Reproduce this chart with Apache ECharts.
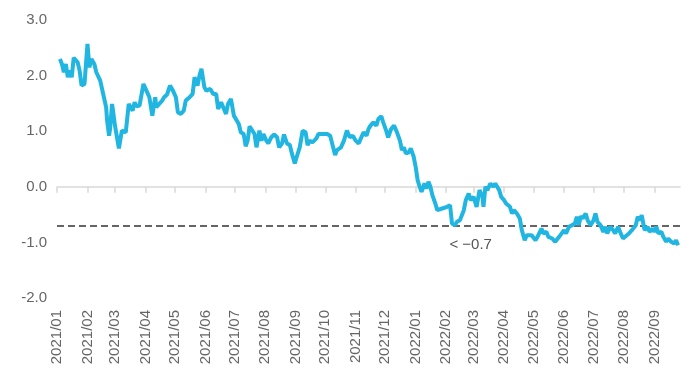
<!DOCTYPE html>
<html>
<head>
<meta charset="utf-8">
<script src="https://cdn.jsdelivr.net/npm/echarts@6/dist/echarts.min.js"></script>
<style>
html,body{margin:0;padding:0;background:#fff;}
#main{width:700px;height:378px;}
</style>
</head>
<body>
<div id="main"></div>
<script>
const dates = [
'2021-01-04','2021-01-05','2021-01-06','2021-01-08','2021-01-10','2021-01-12','2021-01-14','2021-01-16','2021-01-18','2021-01-22','2021-01-24','2021-01-26','2021-01-29','2021-01-30',
'2021-02-01','2021-02-03','2021-02-05','2021-02-08','2021-02-10','2021-02-14','2021-02-17','2021-02-20','2021-02-21','2021-02-23','2021-02-24','2021-02-26','2021-02-27',
'2021-03-01','2021-03-03','2021-03-05','2021-03-08','2021-03-10','2021-03-12','2021-03-15','2021-03-17','2021-03-19','2021-03-21','2021-03-23','2021-03-26','2021-03-30',
'2021-04-02','2021-04-05','2021-04-08','2021-04-11','2021-04-12','2021-04-15','2021-04-18','2021-04-20','2021-04-23','2021-04-26','2021-04-29',
'2021-05-02','2021-05-04','2021-05-07','2021-05-10','2021-05-12','2021-05-16','2021-05-19','2021-05-21','2021-05-24','2021-05-26','2021-05-28','2021-05-31',
'2021-06-02','2021-06-06','2021-06-09','2021-06-12','2021-06-14','2021-06-17','2021-06-19','2021-06-22','2021-06-24','2021-06-27','2021-06-30',
'2021-07-02','2021-07-05','2021-07-07','2021-07-10','2021-07-12','2021-07-14','2021-07-16',
'2021-07-18','2021-07-21','2021-07-23','2021-07-26','2021-07-28','2021-07-30',
'2021-08-02','2021-08-04','2021-08-07','2021-08-10','2021-08-13','2021-08-15','2021-08-18','2021-08-20','2021-08-23','2021-08-26','2021-08-28','2021-08-31',
'2021-09-02','2021-09-05','2021-09-08','2021-09-11','2021-09-13','2021-09-15','2021-09-18','2021-09-22','2021-09-24','2021-09-28',
'2021-10-03','2021-10-06','2021-10-09','2021-10-11','2021-10-13','2021-10-17','2021-10-20','2021-10-23','2021-10-26','2021-10-29',
'2021-11-01','2021-11-04','2021-11-06','2021-11-09','2021-11-12','2021-11-14','2021-11-16','2021-11-19','2021-11-22','2021-11-24','2021-11-27','2021-11-29',
'2021-12-02','2021-12-04','2021-12-07','2021-12-10','2021-12-13','2021-12-16','2021-12-18','2021-12-20','2021-12-22','2021-12-25','2021-12-27','2021-12-30',
'2022-01-01','2022-01-03','2022-01-05','2022-01-07','2022-01-10','2022-01-12','2022-01-14','2022-01-16',
'2022-01-18','2022-01-21','2022-01-23','2022-01-28',
'2022-02-02','2022-02-05','2022-02-07','2022-02-10','2022-02-12','2022-02-15','2022-02-19','2022-02-21','2022-02-24','2022-02-26',
'2022-03-01','2022-03-04','2022-03-07','2022-03-10','2022-03-11','2022-03-13','2022-03-15','2022-03-18','2022-03-21','2022-03-23','2022-03-27','2022-03-29',
'2022-04-01','2022-04-03','2022-04-07','2022-04-09','2022-04-11','2022-04-14','2022-04-17','2022-04-19','2022-04-22','2022-04-24','2022-04-26','2022-04-29',
'2022-05-03','2022-05-05','2022-05-09','2022-05-11','2022-05-14','2022-05-16','2022-05-20','2022-05-23','2022-05-27',
'2022-06-01','2022-06-03','2022-06-06','2022-06-09','2022-06-12','2022-06-14','2022-06-16','2022-06-18','2022-06-20','2022-06-23','2022-06-25','2022-06-28',
'2022-07-01','2022-07-03','2022-07-05','2022-07-08','2022-07-11','2022-07-13','2022-07-15','2022-07-18','2022-07-21','2022-07-23','2022-07-26','2022-07-28','2022-07-31',
'2022-08-02','2022-08-06','2022-08-09','2022-08-13','2022-08-15','2022-08-17','2022-08-19','2022-08-22','2022-08-25','2022-08-27','2022-08-30',
'2022-09-01','2022-09-03','2022-09-05','2022-09-08','2022-09-10','2022-09-13','2022-09-15','2022-09-18','2022-09-21','2022-09-23','2022-09-25'
];

const values = [
2.30,2.33,2.21,2.06,2.21,1.97,2.09,1.97,2.32,2.24,2.09,1.82,1.85,1.88,
2.57,2.15,2.30,2.21,2.06,1.91,1.67,1.43,1.19,0.92,1.04,1.49,1.37,
1.10,1.07,0.69,1.01,1.04,0.98,1.49,1.43,1.37,1.52,1.45,1.46,1.85,
1.73,1.61,1.28,1.61,1.43,1.49,1.55,1.61,1.66,1.82,1.73,
1.61,1.34,1.31,1.37,1.55,1.61,1.67,1.97,1.82,2.00,2.12,1.79,
1.73,1.76,1.67,1.67,1.40,1.52,1.49,1.31,1.49,1.58,1.28,
1.31,1.13,0.98,0.95,0.73,0.83,1.09,
1.10,0.95,0.71,1.01,0.83,0.95,
0.83,0.78,0.89,0.94,0.89,0.71,0.78,0.94,0.78,0.75,0.60,0.42,
0.54,0.71,1.01,0.98,0.75,0.83,0.80,0.87,0.95,0.95,
0.95,0.92,0.71,0.57,0.66,0.71,0.83,1.01,0.89,0.92,
0.83,0.78,0.75,0.98,0.92,1.04,1.10,1.16,1.10,1.22,1.27,1.16,
1.01,0.89,1.04,1.10,0.98,0.83,0.66,0.71,0.60,0.62,0.69,0.54,
0.36,0.12,0.00,-0.09,0.06,-0.03,0.09,0.00,
-0.15,-0.30,-0.42,-0.39,
-0.36,-0.33,-0.66,-0.69,-0.63,-0.60,-0.42,-0.24,-0.12,-0.24,
-0.18,-0.36,-0.06,-0.18,-0.36,0.00,-0.06,0.06,0.00,0.06,-0.06,-0.18,
-0.24,-0.30,-0.36,-0.48,-0.42,-0.48,-0.57,-0.78,-0.96,-0.87,-0.90,-0.87,
-0.96,-0.90,-0.75,-0.84,-0.81,-0.90,-0.93,-0.99,-0.90,
-0.78,-0.84,-0.72,-0.69,-0.66,-0.54,-0.69,-0.53,-0.57,-0.48,-0.60,-0.69,
-0.60,-0.48,-0.63,-0.69,-0.81,-0.72,-0.84,-0.72,-0.78,-0.84,-0.72,-0.81,-0.93,
-0.90,-0.84,-0.78,-0.69,-0.54,-0.60,-0.51,-0.78,-0.72,-0.81,-0.75,
-0.81,-0.72,-0.84,-0.81,-0.90,-0.99,-0.93,-0.99,-1.02,-0.96,-1.05
];

const monthLabels = ['2021/01','2021/02','2021/03','2021/04','2021/05','2021/06','2021/07','2021/08','2021/09','2021/10','2021/11','2021/12',
'2022/01','2022/02','2022/03','2022/04','2022/05','2022/06','2022/07','2022/08','2022/09'];

const yTicks = [-2, -1, 0, 1, 2, 3];
const thresholdValue = -0.7;
const thresholdLabel = '< \u22120.7';
const thresholdLabelDate = '2022-02-26';
const axisStart = '2021-01-01';
const axisEnd = '2022-09-27';

function parseLocal(s) {
  const p = s.split(/[-\/]/).map(Number);
  return new Date(p[0], p[1] - 1, p[2] || 1).getTime();
}
const monthTs = monthLabels.map(parseLocal);
const labelByTs = {};
monthLabels.forEach(function (l, i) { labelByTs[monthTs[i]] = l; });
const n = Math.min(dates.length, values.length);
const seriesData = [];
for (let i = 0; i < n; i++) seriesData.push([parseLocal(dates[i]), values[i]]);

const chart = echarts.init(document.getElementById('main'), null, {renderer: 'canvas'});
const font = 'Liberation Sans, Arial, sans-serif';
chart.setOption({
  animation: false,
  backgroundColor: '#ffffff',
  grid: {left: 57, right: 20, top: 20, bottom: 80, containLabel: false},
  xAxis: [
    {
      type: 'value',
      position: 'top',
      min: parseLocal(axisStart),
      max: parseLocal(axisEnd),
      axisLine: {show: true, onZero: true, lineStyle: {color: '#d9d9d9', width: 1.5}},
      axisTick: {show: true, inside: true, length: 6, customValues: monthTs, lineStyle: {color: '#d9d9d9', width: 1.5}},
      axisLabel: {show: false},
      splitLine: {show: false}
    },
    {
      type: 'value',
      position: 'bottom',
      min: parseLocal(axisStart),
      max: parseLocal(axisEnd),
      axisLine: {show: false, onZero: false},
      axisTick: {show: false},
      axisLabel: {
        show: true, rotate: 90, margin: 12, customValues: monthTs,
        formatter: function (v) { return labelByTs[v] || ''; },
        color: '#666666', fontSize: 15, fontFamily: font
      },
      splitLine: {show: false}
    }
  ],
  yAxis: {
    type: 'value',
    min: yTicks[0], max: yTicks[yTicks.length - 1], interval: 1,
    axisLine: {show: false},
    axisTick: {show: false},
    splitLine: {show: false},
    axisLabel: {color: '#666666', fontSize: 15, fontFamily: font, margin: 10,
      formatter: function (v) { return v.toFixed(1); }}
  },
  series: [{
    type: 'line',
    xAxisIndex: 0,
    data: seriesData,
    showSymbol: false,
    symbol: 'none',
    lineStyle: {color: '#21b6e1', width: 4},
    z: 3,
    markLine: {
      silent: true,
      symbol: ['none', 'none'],
      label: {show: false},
      lineStyle: {color: '#333333', type: [7, 4], width: 1.5},
      data: [{yAxis: thresholdValue}],
      z: 2
    },
    markPoint: {
      silent: true,
      symbol: 'circle',
      symbolSize: 0,
      data: [{coord: [parseLocal(thresholdLabelDate), thresholdValue], value: thresholdValue}],
      label: {show: true, position: 'inside', offset: [0, 19], formatter: thresholdLabel,
        color: '#555555', fontSize: 15, fontFamily: font}
    }
  }]
});
</script>
</body>
</html>
